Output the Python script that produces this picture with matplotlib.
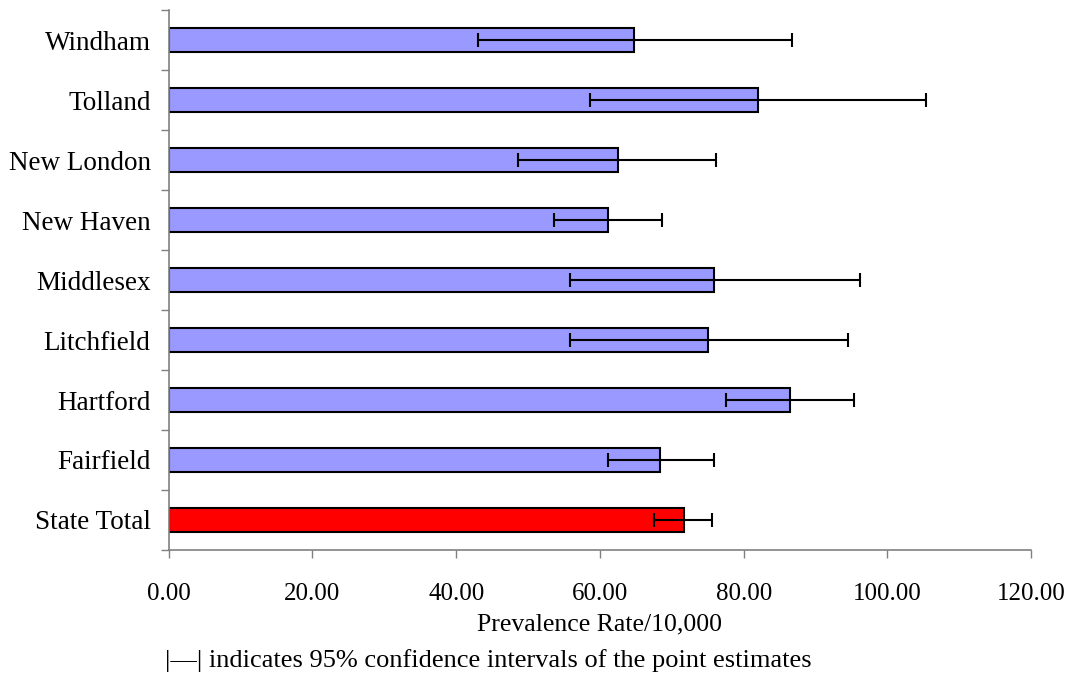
import numpy as np
import matplotlib
matplotlib.use("Agg")
from matplotlib import pyplot as plt

# county prevalence estimates (per 10,000) with 95% confidence limits, bottom to top
counties = ['State Total', 'Fairfield', 'Hartford', 'Litchfield', 'Middlesex',
            'New Haven', 'New London', 'Tolland', 'Windham']
rate = [71.7, 68.4, 86.4, 75.0, 75.9, 61.1, 62.5, 82.0, 64.7]
ci_low = [67.5, 61.1, 77.5, 55.8, 55.8, 53.6, 48.6, 58.6, 43.0]
ci_high = [75.6, 75.9, 95.3, 94.5, 96.2, 68.6, 76.1, 105.3, 86.7]
bar_colors = ['#ff0000'] + ['#9999ff'] * 8
x_ticks = [0, 20, 40, 60, 80, 100, 120]

plt.rcParams['font.family'] = ['Liberation Serif', 'DejaVu Serif']

fig = plt.figure(figsize=(10.73, 6.77), dpi=100)
ax = fig.add_axes([0.1571, 0.1876, 0.8040, 0.7976])

y = np.arange(len(counties))
rate = np.array(rate)
err = [rate - np.array(ci_low), np.array(ci_high) - rate]

ax.barh(y, rate, height=0.4, color=bar_colors, edgecolor='black', linewidth=1.5, zorder=2)
ax.errorbar(rate, y, xerr=err, fmt='none', ecolor='black', elinewidth=1.5,
            capsize=4.7, capthick=1.5, zorder=3)

ax.set_xlim(0, 120)
ax.set_ylim(-0.5, len(counties) - 0.5)

ax.set_xticks(x_ticks)
ax.set_xticklabels(['%.2f' % v for v in x_ticks], fontsize=18)
ax.tick_params(axis='x', direction='out', length=6, width=1, color='#808080', pad=17.5)

# category boundaries get the tick marks, labels sit at the bar centres
ax.set_yticks(np.arange(-0.5, len(counties), 1.0))
ax.set_yticklabels([])
ax.set_yticks(y, minor=True)
ax.set_yticklabels(counties, minor=True, fontsize=19.5)
ax.tick_params(axis='y', which='major', direction='out', length=6, width=1, color='#808080')
ax.tick_params(axis='y', which='minor', length=0, pad=13)

for side in ['top', 'right']:
    ax.spines[side].set_visible(False)
for side in ['left', 'bottom']:
    ax.spines[side].set_color('#808080')
    ax.spines[side].set_linewidth(1.2)

ax.set_xlabel('Prevalence Rate/10,000', fontsize=18.5, labelpad=6)

fig.text(0.154, 1 - 661 / 677, '|\u2014| indicates 95% confidence intervals of the point estimates',
         fontsize=19, ha='left', va='center')

fig.savefig('out.png', dpi=100, facecolor='white')
